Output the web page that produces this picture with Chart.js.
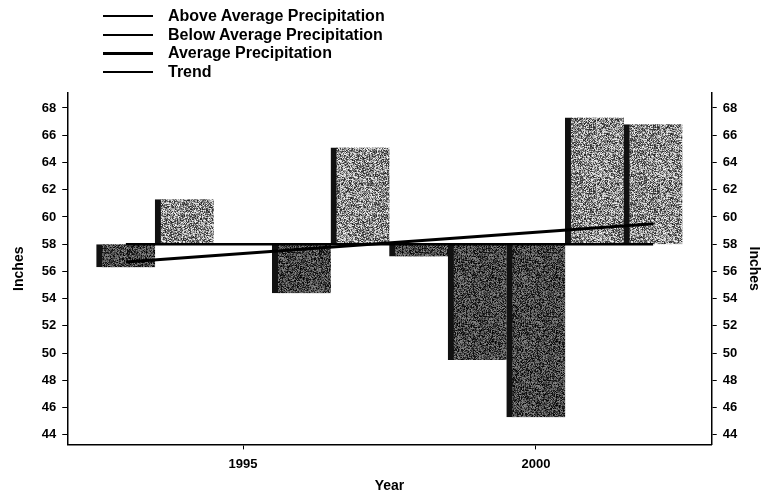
<!DOCTYPE html>
<html>
<head>
<meta charset="utf-8">
<script src="https://cdn.jsdelivr.net/npm/chart.js@4"></script>
<style>
  html, body { margin:0; padding:0; background:#fff; }
  #wrap { position:relative; width:765px; height:493px; }
  #legend { position:absolute; left:103px; top:7px; font:bold 16px 'Liberation Sans', Arial, sans-serif; color:#000; }
  .row { display:flex; align-items:center; height:18.5px; }
  .sw { width:50px; height:0; border-top:2px solid #000; margin-right:15px; }
</style>
</head>
<body>
<div id="wrap">
  <canvas id="c" width="765" height="493"></canvas>
  <div id="legend"></div>
</div>
<script>
// ---- data ----
const years = [1993, 1994, 1995, 1996, 1997, 1998, 1999, 2000, 2001, 2002];
const precipitation = [56.3, 61.3, 58.0, 54.4, 65.1, 57.1, 49.5, 45.3, 67.3, 66.8];
const averagePrecipitation = 58.0;
const averageYears = [1993, 2002];
const trendYears = [1993, 2002];
const trendValues = [56.7, 59.5];
const yTicks = [44, 46, 48, 50, 52, 54, 56, 58, 60, 62, 64, 66, 68];
const xTicks = [1995, 2000];
const legendLabels = ['Above Average Precipitation', 'Below Average Precipitation', 'Average Precipitation', 'Trend'];

// ---- derived structures ----
const aboveData = [], belowData = [];
years.forEach((yr, i) => {
  const v = precipitation[i];
  if (v > averagePrecipitation) aboveData.push({x: yr, y: [averagePrecipitation, v]});
  else if (v < averagePrecipitation) belowData.push({x: yr, y: [averagePrecipitation, v]});
});
const averageData = averageYears.map(x => ({x, y: averagePrecipitation}));
const trendData = trendYears.map((x, i) => ({x, y: trendValues[i]}));

// deterministic speckle texture (style only)
function speckle(base, spread, seed) {
  const c = document.createElement('canvas');
  c.width = 64; c.height = 64;
  const g = c.getContext('2d');
  const img = g.createImageData(64, 64);
  let s = seed;
  for (let p = 0; p < 64 * 64; p++) {
    s = (s * 1103515245 + 12345) & 0x7fffffff;
    const r = (s >> 8) % 1000 / 1000;
    let v = base + (r - 0.5) * 2 * spread;
    v = Math.max(0, Math.min(255, v));
    img.data[p*4] = img.data[p*4+1] = img.data[p*4+2] = v;
    img.data[p*4+3] = 255;
  }
  g.putImageData(img, 0, 0);
  return g.createPattern(c, 'repeat');
}
const ctx = document.getElementById('c').getContext('2d');
const abovePattern = speckle(140, 105, 7);
const belowPattern = speckle(70, 70, 13);

const FONT = "'Liberation Sans', Arial, Helvetica, sans-serif";

// HTML legend
const lg = document.getElementById('legend');
legendLabels.forEach((t, i) => {
  const r = document.createElement('div'); r.className = 'row';
  const sw = document.createElement('span'); sw.className = 'sw';
  if (i === 2) sw.style.borderTopWidth = '3px';
  const tx = document.createElement('span'); tx.textContent = t;
  r.appendChild(sw); r.appendChild(tx); lg.appendChild(r);
});

function yAxis(position, titlePad) {
  return {
    type: 'linear', position, min: 43.3, max: 69.1,
    afterBuildTicks: s => { s.ticks = yTicks.map(v => ({value: v})); },
    grid: { drawOnChartArea: false, drawTicks: true, tickLength: 5, color: '#000', lineWidth: 1 },
    border: { display: true, color: '#000', width: 1.5 },
    ticks: { color: '#000', padding: 6, font: { family: FONT, size: 13, weight: 'bold' } },
    title: { display: true, text: 'Inches', color: '#000', font: { family: FONT, size: 14, weight: 'bold' }, padding: titlePad }
  };
}

new Chart(ctx, {
  data: {
    datasets: [
      { type: 'line', label: 'Trend', data: trendData, borderColor: '#000', borderWidth: 3, pointRadius: 0, order: 0, yAxisID: 'y' },
      { type: 'line', label: 'Average Precipitation', data: averageData, borderColor: '#000', borderWidth: 2.5, pointRadius: 0, order: 0, yAxisID: 'y' },
      { type: 'bar', label: 'Above Average Precipitation', data: aboveData, backgroundColor: abovePattern,
        borderColor: '#111', borderWidth: {left: 6, right: 0, top: 0, bottom: 0}, borderSkipped: false,
        barPercentage: 1, categoryPercentage: 1, grouped: false, order: 1, yAxisID: 'y' },
      { type: 'bar', label: 'Below Average Precipitation', data: belowData, backgroundColor: belowPattern,
        borderColor: '#111', borderWidth: {left: 6, right: 0, top: 0, bottom: 0}, borderSkipped: false,
        barPercentage: 1, categoryPercentage: 1, grouped: false, order: 1, yAxisID: 'y' }
    ]
  },
  options: {
    responsive: false,
    animation: false,
    devicePixelRatio: 1,
    layout: { padding: { top: 93, left: 7, right: 3, bottom: 0 } },
    plugins: { legend: { display: false }, tooltip: { enabled: false } },
    scales: {
      x: {
        type: 'linear', min: 1992, max: 2003, offset: false,
        afterBuildTicks: s => { s.ticks = xTicks.map(v => ({value: v})); },
        grid: { drawOnChartArea: false, drawTicks: true, tickLength: 5, color: '#000', offset: false },
        border: { display: true, color: '#000', width: 1.5 },
        ticks: { color: '#000', padding: 7, font: { family: FONT, size: 13, weight: 'bold' }, callback: v => String(v) },
        title: { display: true, text: 'Year', color: '#000', font: { family: FONT, size: 14, weight: 'bold', lineHeight: 1 }, padding: {top: 0, bottom: 0} }
      },
      y: yAxis('left', {top: 4, bottom: 8}),
      y2: yAxis('right', {top: 0, bottom: 2})
    }
  }
});
</script>
</body>
</html>
